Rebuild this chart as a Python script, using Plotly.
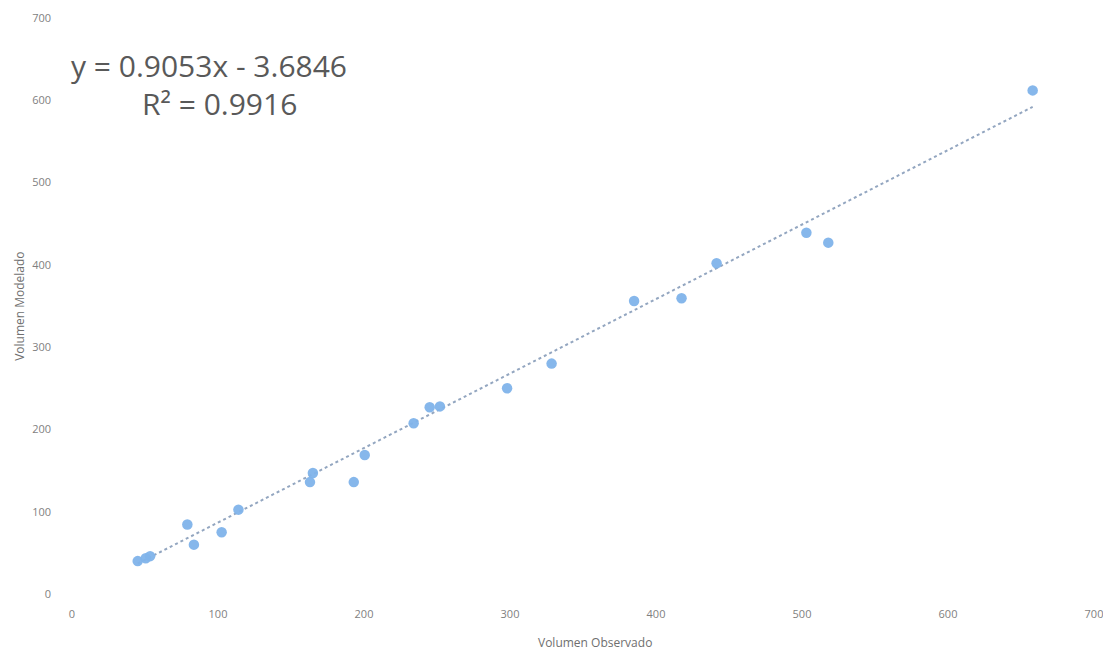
import plotly.graph_objects as go

vol_observado = [45, 50.5, 53.5, 79, 83.5, 102.5, 114, 163, 165, 193, 200.5,
                 234, 245, 252, 298, 328.5, 385, 417.5, 441.5, 503, 518, 658]
vol_modelado = [40, 43.5, 46, 84.5, 60, 75, 102.5, 136, 147, 136, 169,
                207.5, 227, 228, 250, 280, 356, 359.5, 402, 439, 427, 612]

# linear trendline as reported on the chart
slope = 0.9053
intercept = -3.6846
r2 = 0.9916

x_line = [min(vol_observado), max(vol_observado)]
y_line = [slope * v + intercept for v in x_line]

fig = go.Figure()
fig.add_trace(go.Scatter(x=x_line, y=y_line, mode='lines',
                         line=dict(color='#93a6c0', width=2, dash='dot'),
                         hoverinfo='skip', showlegend=False))
fig.add_trace(go.Scatter(x=vol_observado, y=vol_modelado, mode='markers',
                         marker=dict(color='#80b3ea', size=10.5, opacity=0.95),
                         showlegend=False))

font_family = 'Open Sans, Liberation Sans, sans-serif'
tick_font = dict(family=font_family, size=11, color='#7f7f7f')
title_font = dict(family=font_family, size=12, color='#6f6f6f')
eq_font = dict(family=font_family, size=30, color='#595959')

# the page body adds an 8px margin, so the figure is a little smaller
fig.update_layout(
    width=1103, height=648,
    paper_bgcolor='white', plot_bgcolor='white',
    margin=dict(l=64, r=17, t=10, b=62),
    xaxis=dict(range=[0, 700], dtick=100, showgrid=False, zeroline=False,
               showline=False, tickfont=tick_font, ticklabelstandoff=12,
               ticklabeloverflow='allow', automargin=False, title=None),
    yaxis=dict(range=[0, 700], dtick=100, showgrid=False, zeroline=False,
               showline=False, tickfont=tick_font, ticklabelstandoff=20,
               ticklabeloverflow='allow', automargin=False, title=None),
    annotations=[
        dict(x=0.134, y=0.918, xref='paper', yref='paper', showarrow=False,
             xanchor='center', yanchor='middle',
             text='y = %.4fx - %.4f' % (slope, -intercept), font=eq_font),
        dict(x=0.144, y=0.852, xref='paper', yref='paper', showarrow=False,
             xanchor='center', yanchor='middle',
             text='R² = %.4f' % r2, font=eq_font),
        dict(x=0.512, y=-0.085, xref='paper', yref='paper', showarrow=False,
             xanchor='center', yanchor='middle',
             text='Volumen Observado', font=title_font),
        dict(x=-0.052, y=0.5, xref='paper', yref='paper', showarrow=False,
             xanchor='center', yanchor='middle', textangle=-90,
             text='Volumen Modelado', font=title_font),
    ],
)

fig.write_html("out.html")
